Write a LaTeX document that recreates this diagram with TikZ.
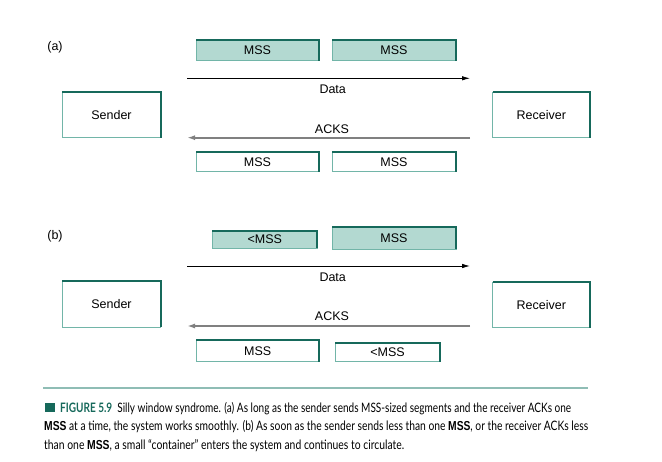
\documentclass[tikz,border=0pt]{standalone}
\usepackage{fontspec}
\setmainfont{Liberation Sans}
\newfontfamily\capfont{Lato}
\usetikzlibrary{arrows.meta}
\definecolor{segfill}{HTML}{B3D9D1}
\definecolor{darkteal}{HTML}{16695B}
\definecolor{lightteal}{HTML}{72B5A8}
\definecolor{rulecol}{HTML}{8FBDB5}
\definecolor{ackgray}{HTML}{808080}
\begin{document}
\begin{tikzpicture}[x=1pt,y=-1pt,
  box/.style={draw=lightteal, line width=1pt, fill=white, inner sep=0pt, outer sep=0pt,
    font=\fontsize{12.5}{14}\selectfont},
  seg/.style={box, fill=segfill},
  bevel/.style={draw=darkteal, line width=2pt, line join=miter},
  lbl/.style={inner sep=0pt, font=\fontsize{12.5}{14}\selectfont},
  dataarrow/.style={draw=black, line width=0.8pt, -{Latex[length=8pt,width=4.5pt]}},
  ackarrow/.style={draw=ackgray, line width=1.8pt, -{Latex[length=8pt,width=5pt]}},
  captxt/.style={inner sep=0pt, anchor=base west, font=\capfont\fontsize{13}{15}\selectfont}
]
\useasboundingbox (0,0) rectangle (662,462);
\fill[white] (0,0) rectangle (662,462);

% ---------- (a) ----------
\node[lbl] (la) at (55,47) {(a)};
\node[seg, minimum width=123pt, minimum height=20.5pt] (a1) at (257.5,50.3) {MSS};
\node[seg, minimum width=124pt, minimum height=20.5pt] (a2) at (394,50.3) {MSS};
\coordinate (da1) at (187,78.3);
\coordinate (da2) at (470,78.3);
\draw[dataarrow] (da1) -- (da2);
\node[lbl] (dla) at (332.7,89.3) {Data};
\node[box, minimum width=99pt, minimum height=45.5pt] (sa) at (111.5,115) {Sender};
\node[box, minimum width=97.5pt, minimum height=45.5pt] (ra) at (541.3,115) {Receiver};
\node[lbl] (ala) at (332,129) {ACKS};
\coordinate (aa1) at (470,137.7);
\coordinate (aa2) at (187,137.7);
\draw[ackarrow] (aa1) -- (aa2);
\node[box, minimum width=123pt, minimum height=20pt] (a3) at (257.5,161.7) {MSS};
\node[box, minimum width=124pt, minimum height=20pt] (a4) at (394,161.7) {MSS};

% ---------- (b) ----------
\node[lbl] (lb) at (55,236) {(b)};
\node[seg, minimum width=105pt, minimum height=17.6pt] (b1) at (264.8,239.5) {<MSS};
\node[seg, minimum width=124pt, minimum height=22pt] (b2) at (394,238.3) {MSS};
\coordinate (db1) at (187,266);
\coordinate (db2) at (470,266);
\draw[dataarrow] (db1) -- (db2);
\node[lbl] (dlb) at (332.7,277.3) {Data};
\node[box, minimum width=98.5pt, minimum height=46.6pt] (sb) at (111.5,304) {Sender};
\node[box, minimum width=97.5pt, minimum height=45.5pt] (rb) at (541.3,305) {Receiver};
\node[lbl] (alb) at (332,316) {ACKS};
\coordinate (ab1) at (470,326);
\coordinate (ab2) at (187,326);
\draw[ackarrow] (ab1) -- (ab2);
\node[box, minimum width=123pt, minimum height=21.7pt] (b3) at (257.7,350.8) {MSS};
\node[box, minimum width=105pt, minimum height=18.4pt] (b4) at (387.5,352.5) {<MSS};

% dark top/right edges
\foreach \n in {a1,a2,a3,a4,sa,ra,b1,b2,b3,b4,sb,rb}{
  \draw[bevel] (\n.north west) -- (\n.north east) -- (\n.south east);
}

% ---------- caption ----------
\coordinate (r1) at (43,388.3);
\coordinate (r2) at (588,388.3);
\draw[draw=rulecol, line width=2pt] (r1) -- (r2);
\fill[darkteal] (44.5,403.5) rectangle (55,412.3) coordinate (sq);
\node[captxt] (c1) at (60,412.3) {\resizebox{511pt}{\height}{\textcolor{darkteal}{\bfseries FIGURE 5.9}\ \ Silly window syndrome. (a) As long as the sender sends MSS-sized segments and the receiver ACKs one}};
\node[captxt] (c2) at (44,431) {\resizebox{544pt}{\height}{{\rmfamily\bfseries MSS} at a time, the system works smoothly. (b) As soon as the sender sends less than one {\rmfamily\bfseries MSS}, or the receiver ACKs less}};
\node[captxt] (c3) at (44,449.3) {\resizebox{360pt}{\height}{than one {\rmfamily\bfseries MSS}, a small “container” enters the system and continues to circulate.}};
\end{tikzpicture}
\end{document}
